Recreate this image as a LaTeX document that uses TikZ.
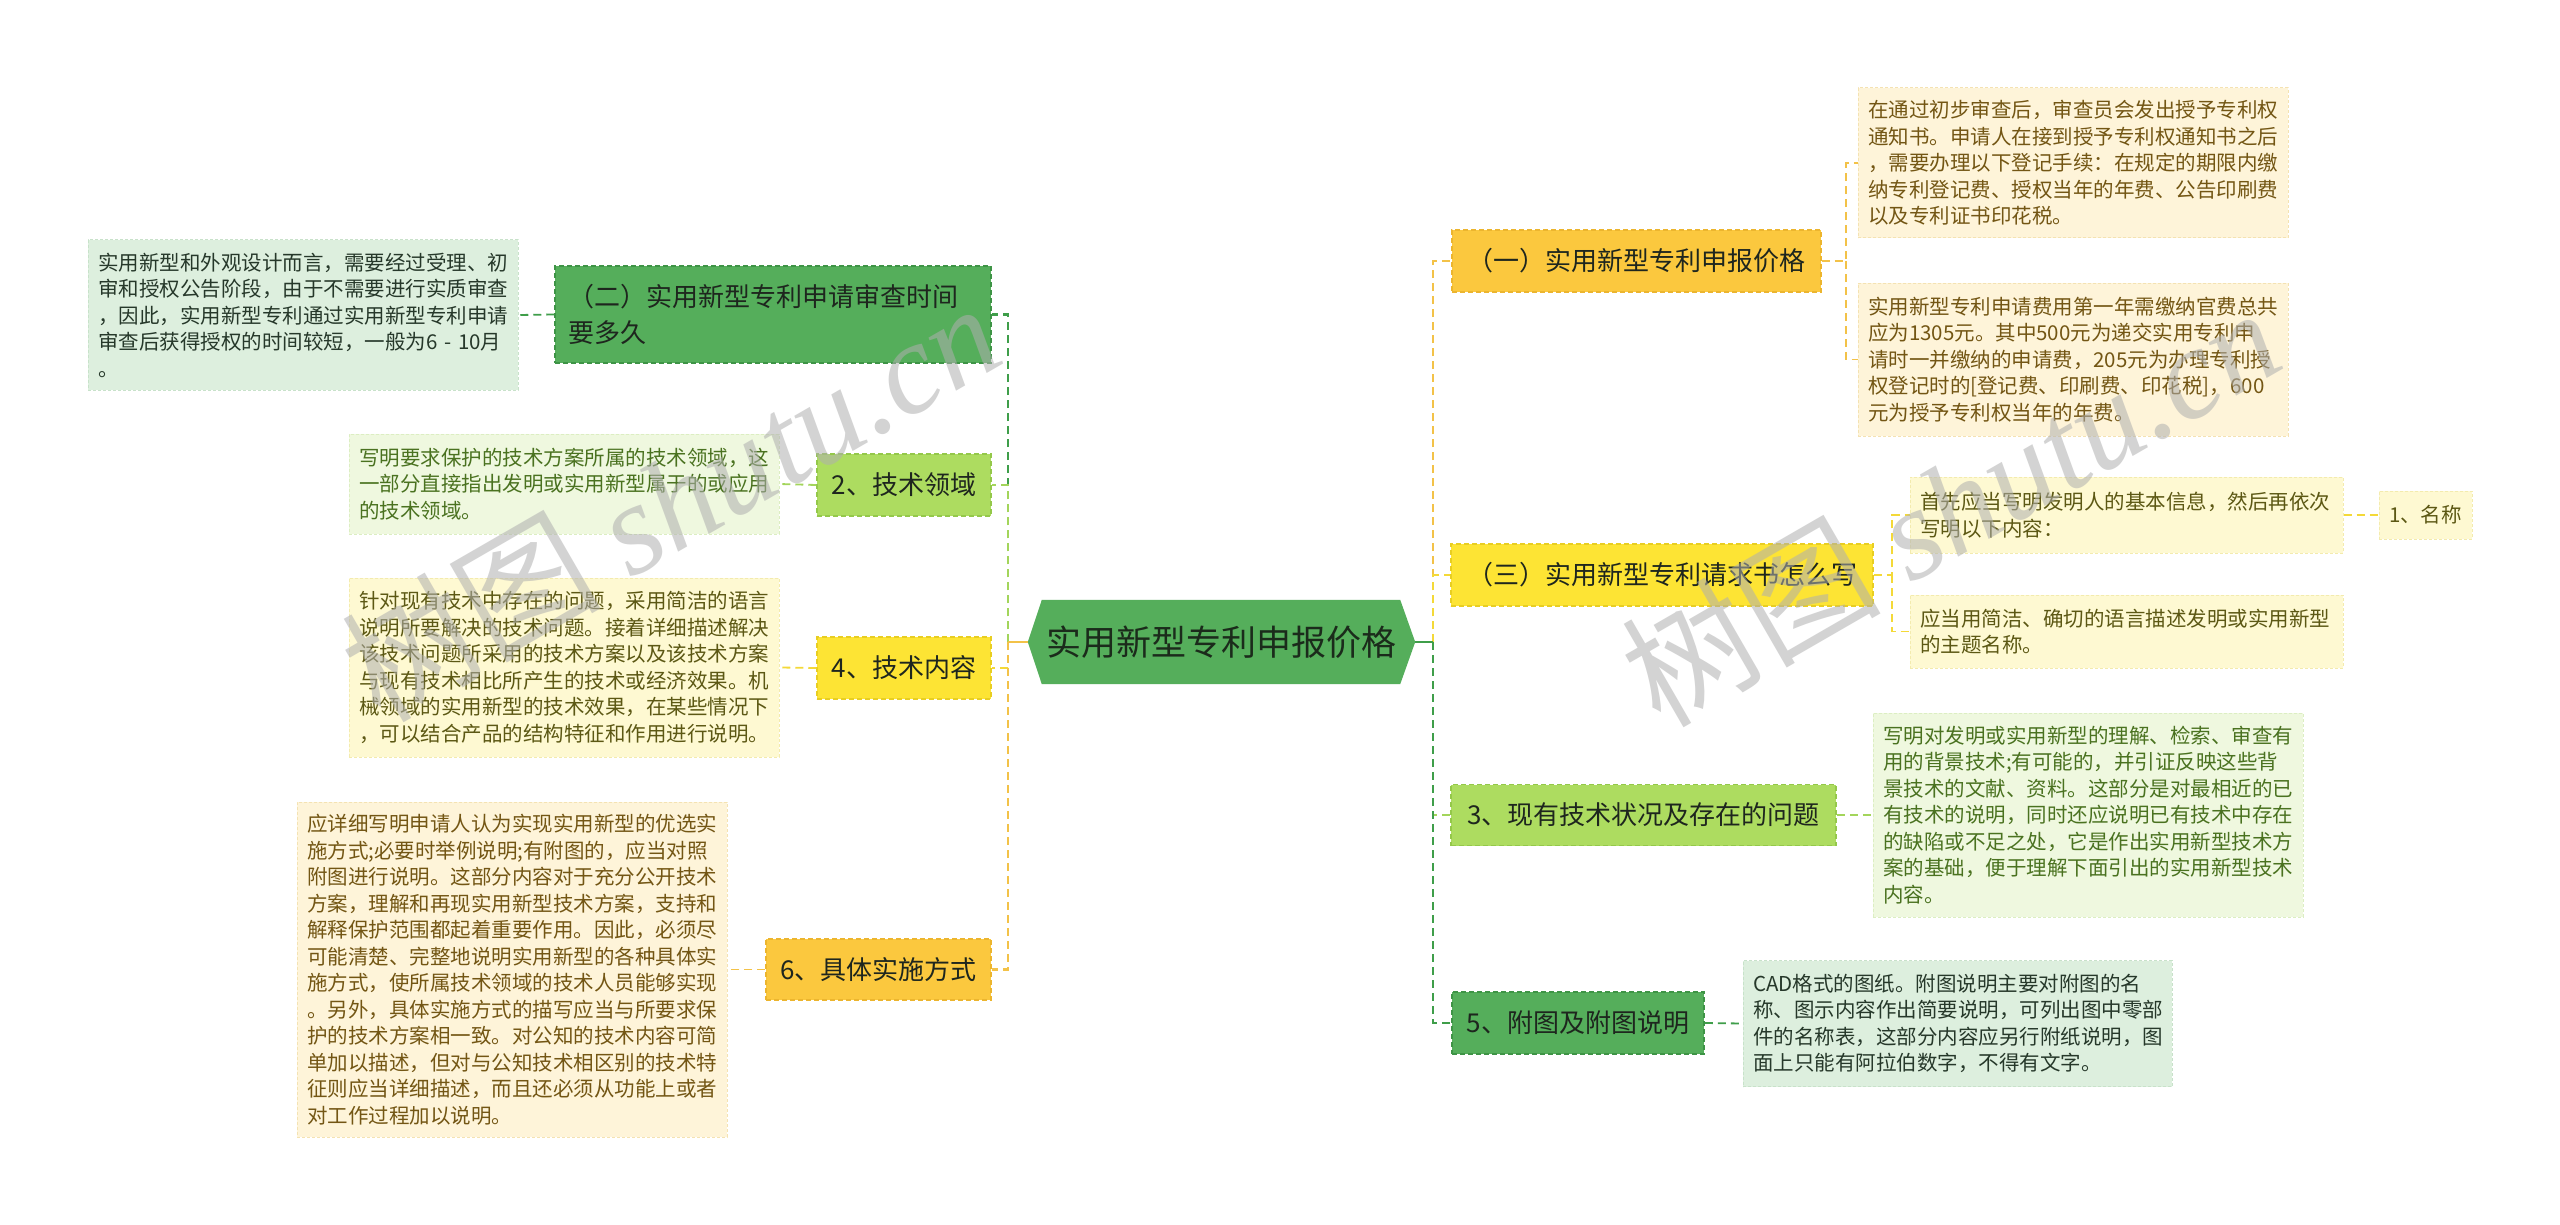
\documentclass[tikz,border=0pt]{standalone}
\usepackage{fontspec}
\setmainfont{Noto Sans CJK SC}
\newfontfamily\wmlatin{Liberation Serif}
\usetikzlibrary{backgrounds}

% box fills / borders / connectors
\definecolor{dgf}{HTML}{55AE5B}
\definecolor{dgb}{HTML}{3E9446}
\definecolor{dgl}{HTML}{3F9E4A}
\definecolor{lgf}{HTML}{ADDC60}
\definecolor{lgb}{HTML}{94C84A}
\definecolor{lgl}{HTML}{A3D55B}
\definecolor{yef}{HTML}{FDE434}
\definecolor{yeb}{HTML}{E8CE22}
\definecolor{yel}{HTML}{F4D938}
\definecolor{orf}{HTML}{FBC83E}
\definecolor{orb}{HTML}{ECB52E}
\definecolor{orl}{HTML}{F3C248}
\definecolor{mtext}{HTML}{1E261E}
\definecolor{roottext}{HTML}{1B2B1B}
% text boxes
\definecolor{tAf}{HTML}{DDEFDE}\definecolor{tAb}{HTML}{C8E2CA}\definecolor{tAt}{HTML}{26382A}
\definecolor{tBf}{HTML}{EFF8DF}\definecolor{tBb}{HTML}{DCEEC2}\definecolor{tBt}{HTML}{4A7220}
\definecolor{tCf}{HTML}{FEF9D2}\definecolor{tCb}{HTML}{F3EBAE}\definecolor{tCt}{HTML}{5C5814}
\definecolor{tDf}{HTML}{FEF4D9}\definecolor{tDb}{HTML}{F4E2B2}\definecolor{tDt}{HTML}{735614}
\definecolor{wmc}{RGB}{175,175,175}

\tikzset{
  tbox/.style={draw, dash pattern=on 3pt off 2pt, line width=1pt, inner xsep=10pt, inner ysep=0pt,
    align=left, text width=#1-20pt, minimum width=#1, font=\fontsize{20.5}{26.5}\selectfont},
  tbox/.default=430pt,
  mbox/.style={draw, dash pattern=on 5pt off 3pt, line width=1.5pt, inner sep=0pt,
    font=\fontsize{26}{36}\selectfont, text=mtext, align=center},
  conn/.style={line width=2.5pt, dash pattern=on 8pt off 5pt},
  subconn/.style={line width=1.8pt, dash pattern=on 8pt off 5pt},
  wmark/.style={font=\fontsize{130}{130}\selectfont, text=wmc, opacity=0.55, rotate=30, inner sep=0pt}
}

\begin{document}
\begin{tikzpicture}[x=1pt,y=-1pt]
\useasboundingbox (0,0) rectangle (2560,1225);

% ---------- root ----------
\node[font=\fontsize{35}{40}\selectfont, text=roottext, minimum width=387pt, minimum height=84pt, inner sep=0pt]
  (root) at (1221.5,642) {实用新型专利申报价格};
\begin{pgfonlayer}{background}
\fill[white] (0,0) rectangle (2560,1225);
\fill[dgf] ([xshift=14pt]root.north west) -- ([xshift=-15pt]root.north east) -- (root.east)
  -- ([xshift=-15pt]root.south east) -- ([xshift=14pt]root.south west) -- (root.west) -- cycle;
\end{pgfonlayer}

% ---------- left main boxes ----------
\node[mbox, fill=dgf, draw=dgb, minimum width=436pt, minimum height=97pt, align=left, text width=410pt]
  (n2) at (773,314.5) {（二）实用新型专利申请审查时间\\要多久};
\node[mbox, fill=lgf, draw=lgb, minimum width=174pt, minimum height=62pt] (k2) at (904,485) {2、技术领域};
\node[mbox, fill=yef, draw=yeb, minimum width=174pt, minimum height=62pt] (k4) at (904,668) {4、技术内容};
\node[mbox, fill=orf, draw=orb, minimum width=225pt, minimum height=61pt] (k6) at (878.5,969.5) {6、具体实施方式};

% ---------- left text boxes ----------
\node[tbox, fill=tAf, draw=tAb, text=tAt, minimum height=150pt] (A) at (303,315)
 {实用新型和外观设计而言，需要经过受理、初\\审和授权公告阶段，由于不需要进行实质审查\\，因此，实用新型专利通过实用新型专利申请\\审查后获得授权的时间较短，一般为6 - 10月\\。};
\node[tbox, fill=tBf, draw=tBb, text=tBt, minimum height=100pt] (B) at (564,484)
 {写明要求保护的技术方案所属的技术领域，这\\一部分直接指出发明或实用新型属于的或应用\\的技术领域。};
\node[tbox, fill=tCf, draw=tCb, text=tCt, minimum height=179pt] (C) at (564,667.5)
 {针对现有技术中存在的问题，采用简洁的语言\\说明所要解决的技术问题。接着详细描述解决\\该技术问题所采用的技术方案以及该技术方案\\与现有技术相比所产生的技术或经济效果。机\\械领域的实用新型的技术效果，在某些情况下\\，可以结合产品的结构特征和作用进行说明。};
\node[tbox, fill=tDf, draw=tDb, text=tDt, minimum height=335pt] (D) at (512,969.5)
 {应详细写明申请人认为实现实用新型的优选实\\施方式;必要时举例说明;有附图的，应当对照\\附图进行说明。这部分内容对于充分公开技术\\方案，理解和再现实用新型技术方案，支持和\\解释保护范围都起着重要作用。因此，必须尽\\可能清楚、完整地说明实用新型的各种具体实\\施方式，使所属技术领域的技术人员能够实现\\。另外，具体实施方式的描写应当与所要求保\\护的技术方案相一致。对公知的技术内容可简\\单加以描述，但对与公知技术相区别的技术特\\征则应当详细描述，而且还必须从功能上或者\\对工作过程加以说明。};

% ---------- right main boxes ----------
\node[mbox, fill=orf, draw=orb, minimum width=369pt, minimum height=62pt] (r1) at (1636.5,261) {（一）实用新型专利申报价格};
\node[mbox, fill=yef, draw=yeb, minimum width=422pt, minimum height=62pt] (r3) at (1662,575) {（三）实用新型专利请求书怎么写};
\node[mbox, fill=lgf, draw=lgb, minimum width=385pt, minimum height=61pt] (s3) at (1643.5,815) {3、现有技术状况及存在的问题};
\node[mbox, fill=dgf, draw=dgb, minimum width=252pt, minimum height=62pt] (s5) at (1578,1023) {5、附图及附图说明};

% ---------- right text boxes ----------
\node[tbox, fill=tDf, draw=tDb, text=tDt, minimum height=150pt] (E) at (2073,163)
 {在通过初步审查后，审查员会发出授予专利权\\通知书。申请人在接到授予专利权通知书之后\\，需要办理以下登记手续：在规定的期限内缴\\纳专利登记费、授权当年的年费、公告印刷费\\以及专利证书印花税。};
\node[tbox, fill=tDf, draw=tDb, text=tDt, minimum height=153pt] (F) at (2073,359.5)
 {实用新型专利申请费用第一年需缴纳官费总共\\应为1305元。其中500元为递交实用专利申\\请时一并缴纳的申请费，205元为办理专利授\\权登记时的[登记费、印刷费、印花税]，600\\元为授予专利权当年的年费。};
\node[tbox=433pt, fill=tCf, draw=tCb, text=tCt, minimum height=76pt] (G) at (2126.5,515)
 {首先应当写明发明人的基本信息，然后再依次\\写明以下内容：};
\node[tbox=433pt, fill=tCf, draw=tCb, text=tCt, minimum height=73pt] (H) at (2126.5,631.5)
 {应当用简洁、确切的语言描述发明或实用新型\\的主题名称。};
\node[draw=tCb, dash pattern=on 3pt off 2pt, line width=1pt, fill=tCf, text=tCt, inner sep=0pt,
  minimum width=93pt, minimum height=48pt, font=\fontsize{20.5}{26.5}\selectfont] (nm) at (2425.5,515) {1、名称};
\node[tbox, fill=tBf, draw=tBb, text=tBt, minimum height=204pt] (I) at (2088,815)
 {写明对发明或实用新型的理解、检索、审查有\\用的背景技术;有可能的，并引证反映这些背\\景技术的文献、资料。这部分是对最相近的已\\有技术的说明，同时还应说明已有技术中存在\\的缺陷或不足之处，它是作出实用新型技术方\\案的基础，便于理解下面引出的实用新型技术\\内容。};
\node[tbox=429pt, fill=tAf, draw=tAb, text=tAt, minimum height=126pt] (J) at (1957.5,1023.5)
 {CAD格式的图纸。附图说明主要对附图的名\\称、图示内容作出简要说明，可列出图中零部\\件的名称表，这部分内容应另行附纸说明，图\\面上只能有阿拉伯数字，不得有文字。};

% ---------- connectors ----------
\coordinate (LT) at (1008,642);
\coordinate (RT) at (1433,642);
\draw[conn, dgl] (LT) |- (n2.east);
\draw[conn, lgl] (LT) |- (k2.east);
\draw[conn, yel] (LT) |- (k4.east);
\draw[conn, orl] (LT) |- (k6.east);
\draw[line width=2.5pt, orl] (root.west) -- (LT);

\draw[conn, orl] (RT) |- (r1.west);
\draw[conn, yel] (RT) |- (r3.west);
\draw[conn, lgl] (RT) |- (s3.west);
\draw[conn, dgl] (RT) |- (s5.west);
\draw[line width=2.5pt, dgl] (root.east) -- (RT);

\draw[subconn, dgl] (n2.west) -- (A.east);
\draw[subconn, lgl] (k2.west) -- (B.east);
\draw[subconn, yel] (k4.west) -- (C.east);
\draw[subconn, orl] (k6.west) -- (D.east);

\coordinate (R1J) at (1846,261);
\draw[subconn, orl] (r1.east) -- (R1J) |- (E.west);
\draw[subconn, orl] (R1J) |- (F.west);
\coordinate (R3J) at (1892,575);
\draw[subconn, yel] (r3.east) -- (R3J) |- (G.west);
\draw[subconn, yel] (R3J) |- (H.west);
\draw[subconn, yel] (G.east) -- (nm.west);
\draw[subconn, lgl] (s3.east) -- (I.west);
\draw[subconn, dgl] (s5.east) -- (J.west);

% ---------- watermark ----------
\node[wmark] (wm1) at (670,500) {树图 {\wmlatin\itshape shutu.cn}};
\node[wmark] (wm2) at (1950,505) {树图 {\wmlatin\itshape shutu.cn}};
\end{tikzpicture}
\end{document}
